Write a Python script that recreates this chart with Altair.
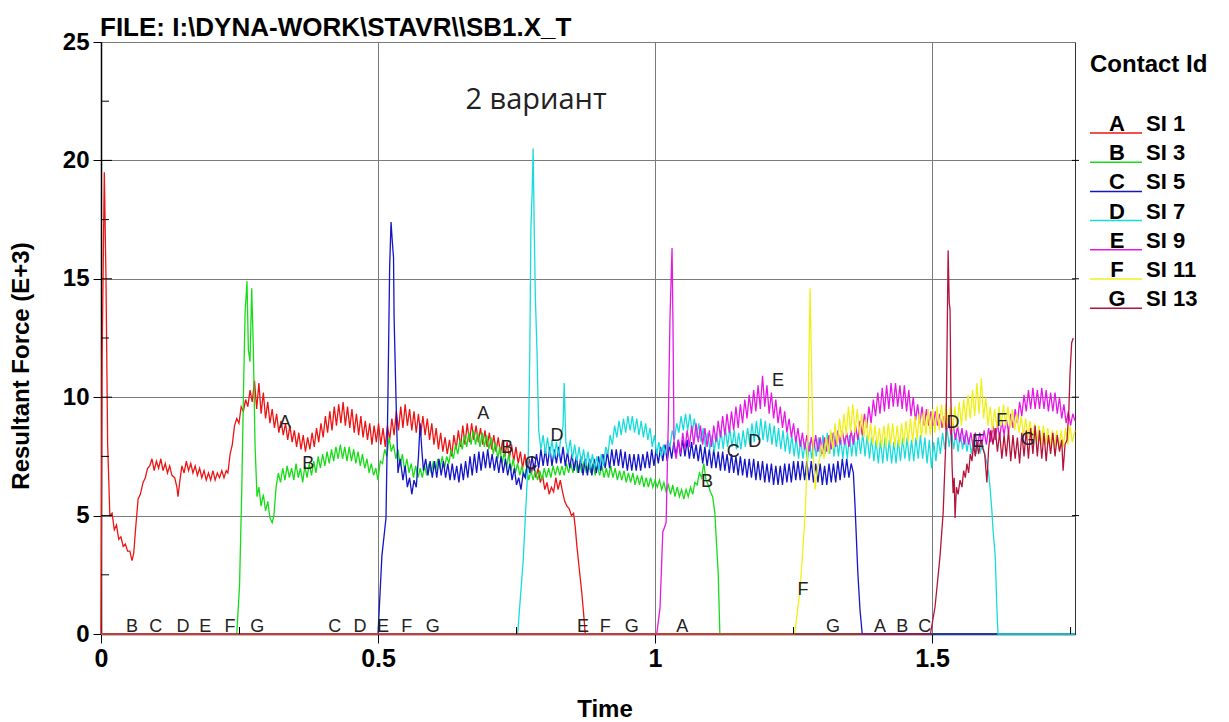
import altair as alt
import pandas as pd

SERIES = ["A", "B", "C", "D", "E", "F", "G"]
LABELS = ["SI 1", "SI 3", "SI 5", "SI 7", "SI 9", "SI 11", "SI 13"]
COLORS = ["#ee1414", "#18dc18", "#1414c8", "#18dcdc", "#e618e6", "#f0f018", "#b4143c"]

X_TICKS = [0, 0.5, 1, 1.5]
Y_TICKS = [0, 5, 10, 15, 20, 25]
X_MINOR = [0.25, 0.75, 1.25, 1.75]
Y_MINOR = [2.5, 7.5, 12.5, 17.5, 22.5]

# (time, resultant force E+3)
A = [(0, 0), (0.002, 11.7), (0.006, 19.5), (0.009, 15.0), (0.012, 8.0), (0.016, 5.0), (0.020, 5.1),
     (0.024, 4.4), (0.028, 4.6), (0.032, 4.0), (0.036, 4.1), (0.040, 3.7), (0.044, 3.8), (0.048, 3.5),
     (0.052, 3.5), (0.056, 3.1), (0.059, 3.4), (0.063, 4.6), (0.067, 5.7), (0.071, 5.9), (0.076, 6.4),
     (0.080, 6.6), (0.084, 7.0), (0.088, 7.1), (0.092, 7.4), (0.096, 6.9), (0.100, 7.3), (0.104, 7.0),
     (0.108, 7.4), (0.112, 6.9), (0.116, 7.2), (0.120, 6.8), (0.124, 7.1), (0.128, 6.7), (0.133, 6.6),
     (0.137, 6.2), (0.139, 5.8), (0.142, 6.4), (0.146, 7.1), (0.150, 6.8), (0.154, 7.3), (0.158, 6.9),
     (0.162, 7.2), (0.166, 6.8), (0.170, 7.1), (0.174, 6.7), (0.178, 7.0), (0.182, 6.6), (0.186, 6.9),
     (0.190, 6.5), (0.194, 6.8), (0.198, 6.5), (0.202, 6.9), (0.206, 6.5), (0.210, 6.8), (0.214, 6.6),
     (0.218, 6.9), (0.222, 6.6), (0.226, 6.9), (0.229, 6.8), (0.233, 7.6), (0.237, 8.0), (0.241, 8.8),
     (0.245, 9.1), (0.249, 8.9), (0.253, 9.6), (0.257, 9.4), (0.261, 9.9), (0.265, 9.6), (0.269, 10.3),
     (0.273, 9.8), (0.277, 10.7), (0.281, 9.5), (0.285, 10.6), (0.289, 9.3), (0.293, 10.2), (0.297, 9.1),
     (0.301, 9.8), (0.305, 8.9), (0.309, 9.5), (0.313, 8.7), (0.317, 9.3), (0.321, 8.5), (0.325, 9.0),
     (0.329, 8.4), (0.333, 8.9), (0.337, 8.2), (0.341, 8.8), (0.345, 8.1), (0.349, 8.6), (0.353, 7.9),
     (0.357, 8.5), (0.361, 7.8), (0.365, 8.4), (0.369, 7.7), (0.373, 8.3), (0.377, 7.8), (0.381, 8.5),
     (0.385, 7.9), (0.389, 8.7), (0.393, 8.1), (0.397, 8.9), (0.401, 8.3), (0.405, 9.2), (0.409, 8.5),
     (0.413, 9.4), (0.417, 8.6), (0.421, 9.6), (0.425, 8.8), (0.429, 9.7), (0.433, 8.9), (0.437, 9.8),
     (0.441, 8.8), (0.445, 9.6), (0.449, 8.7), (0.453, 9.5), (0.457, 8.5), (0.461, 9.3), (0.465, 8.4),
     (0.469, 9.2), (0.473, 8.3), (0.477, 9.0), (0.481, 8.2), (0.485, 8.9), (0.489, 8.0), (0.493, 8.8),
     (0.497, 8.1), (0.501, 8.9), (0.505, 8.0), (0.509, 8.7), (0.513, 7.9), (0.517, 8.8), (0.521, 8.2),
     (0.525, 9.1), (0.529, 8.4), (0.533, 9.4), (0.537, 8.6), (0.541, 9.6), (0.545, 8.7), (0.549, 9.7),
     (0.553, 8.8), (0.557, 9.5), (0.561, 8.6), (0.565, 9.4), (0.569, 8.5), (0.573, 9.3), (0.577, 8.4),
     (0.581, 9.2), (0.585, 8.4), (0.589, 9.1), (0.593, 8.2), (0.597, 8.9), (0.601, 8.0), (0.605, 8.7),
     (0.609, 7.8), (0.613, 8.5), (0.617, 7.7), (0.621, 8.3), (0.625, 7.6), (0.629, 8.2), (0.633, 7.5),
     (0.637, 8.4), (0.641, 7.8), (0.645, 8.6), (0.649, 7.9), (0.653, 8.8), (0.657, 8.0), (0.661, 8.9),
     (0.665, 8.1), (0.669, 8.9), (0.673, 8.2), (0.677, 8.8), (0.681, 8.1), (0.685, 8.7), (0.689, 8.0),
     (0.693, 8.6), (0.697, 7.9), (0.701, 8.5), (0.705, 7.8), (0.709, 8.4), (0.713, 7.7), (0.717, 8.3),
     (0.721, 7.6), (0.725, 8.2), (0.729, 7.5), (0.733, 8.1), (0.737, 7.4), (0.741, 8.0), (0.745, 7.3),
     (0.749, 7.9), (0.753, 7.2), (0.757, 7.7), (0.761, 7.0), (0.765, 7.6), (0.769, 6.9), (0.773, 7.4),
     (0.777, 6.8), (0.781, 7.2), (0.785, 6.6), (0.789, 7.0), (0.793, 6.4), (0.797, 6.7), (0.801, 6.1),
     (0.805, 6.4), (0.809, 5.9), (0.813, 6.2), (0.817, 6.0), (0.821, 6.6), (0.825, 6.1), (0.829, 6.5),
     (0.833, 6.0), (0.837, 5.6), (0.841, 5.4), (0.845, 5.3), (0.849, 5.0), (0.853, 5.1), (0.856, 4.5),
     (0.859, 3.7), (0.863, 2.8), (0.868, 1.7), (0.872, 0.6), (0.874, 0), (1.758, 0)]

B = [(0, 0), (0.245, 0), (0.250, 2.0), (0.254, 6.0), (0.257, 10.0), (0.260, 13.5), (0.2635, 14.9),
     (0.266, 12.0), (0.269, 11.5), (0.272, 14.6), (0.275, 12.0), (0.278, 8.0), (0.2816, 5.8), (0.285, 6.2),
     (0.289, 5.4), (0.293, 5.9), (0.297, 5.2), (0.301, 5.6), (0.305, 4.9), (0.309, 4.7), (0.312, 5.0),
     (0.316, 6.2), (0.320, 6.8), (0.324, 6.4), (0.328, 7.0), (0.332, 6.5), (0.336, 7.1), (0.340, 6.6),
     (0.344, 7.0), (0.348, 6.5), (0.352, 7.2), (0.356, 6.6), (0.360, 7.0), (0.364, 6.4), (0.368, 7.1),
     (0.372, 6.6), (0.376, 7.2), (0.380, 6.7), (0.384, 7.3), (0.388, 6.8), (0.392, 7.5), (0.396, 7.0),
     (0.400, 7.6), (0.404, 7.1), (0.408, 7.7), (0.412, 7.2), (0.416, 7.8), (0.420, 7.3), (0.424, 7.9),
     (0.428, 7.4), (0.432, 8.0), (0.436, 7.4), (0.440, 7.9), (0.444, 7.3), (0.448, 7.9), (0.452, 7.3),
     (0.456, 7.8), (0.460, 7.2), (0.464, 7.7), (0.468, 7.1), (0.472, 7.6), (0.476, 7.0), (0.480, 7.4),
     (0.484, 6.8), (0.488, 7.2), (0.492, 6.7), (0.496, 7.0), (0.500, 6.5), (0.504, 7.3), (0.508, 7.2),
     (0.512, 7.8), (0.516, 7.5), (0.520, 8.3), (0.524, 7.7), (0.528, 8.0), (0.532, 7.4), (0.536, 7.8),
     (0.540, 7.1), (0.544, 7.6), (0.548, 6.9), (0.552, 7.4), (0.556, 6.8), (0.560, 7.2), (0.564, 6.6),
     (0.568, 7.1), (0.572, 6.6), (0.576, 7.0), (0.580, 6.6), (0.584, 7.1), (0.588, 6.7), (0.592, 7.2),
     (0.596, 6.8), (0.600, 7.3), (0.604, 6.9), (0.608, 7.4), (0.612, 7.0), (0.616, 7.5), (0.620, 7.0),
     (0.624, 7.5), (0.628, 7.2), (0.632, 7.8), (0.636, 7.4), (0.640, 8.0), (0.644, 7.6), (0.648, 8.2),
     (0.652, 7.8), (0.656, 8.4), (0.660, 7.9), (0.664, 8.5), (0.668, 8.0), (0.672, 8.6), (0.676, 8.0),
     (0.680, 8.5), (0.684, 7.9), (0.688, 8.5), (0.692, 7.9), (0.696, 8.4), (0.700, 7.8), (0.704, 8.3),
     (0.708, 7.6), (0.712, 8.1), (0.716, 7.4), (0.720, 7.9), (0.724, 7.2), (0.728, 7.7), (0.732, 7.0),
     (0.736, 7.6), (0.740, 6.9), (0.744, 7.4), (0.748, 6.8), (0.752, 7.2), (0.756, 6.7), (0.760, 7.1),
     (0.764, 6.6), (0.768, 7.0), (0.772, 6.5), (0.776, 6.9), (0.780, 6.5), (0.784, 6.9), (0.788, 6.5),
     (0.792, 6.9), (0.796, 6.5), (0.800, 7.0), (0.804, 6.6), (0.808, 7.0), (0.812, 6.6), (0.816, 7.1),
     (0.820, 6.7), (0.824, 7.1), (0.828, 6.7), (0.832, 7.1), (0.836, 6.7), (0.840, 7.2), (0.844, 6.8),
     (0.848, 7.2), (0.852, 6.8), (0.856, 7.3), (0.860, 6.8), (0.864, 7.2), (0.868, 6.8), (0.872, 7.3),
     (0.876, 6.8), (0.880, 7.2), (0.884, 6.8), (0.888, 7.2), (0.892, 6.7), (0.896, 7.1), (0.900, 6.7),
     (0.904, 7.1), (0.908, 6.6), (0.912, 7.0), (0.916, 6.6), (0.920, 7.1), (0.924, 6.6), (0.928, 7.0),
     (0.932, 6.5), (0.936, 6.9), (0.940, 6.5), (0.944, 6.9), (0.948, 6.4), (0.952, 6.8), (0.956, 6.4),
     (0.960, 6.8), (0.964, 6.3), (0.968, 6.7), (0.972, 6.3), (0.976, 6.7), (0.980, 6.2), (0.984, 6.6),
     (0.988, 6.2), (0.992, 6.6), (0.996, 6.2), (1.000, 6.5), (1.004, 6.2), (1.008, 6.5), (1.012, 6.1),
     (1.016, 6.4), (1.020, 6.0), (1.024, 6.3), (1.028, 5.9), (1.032, 6.3), (1.036, 5.8), (1.040, 6.2),
     (1.044, 5.8), (1.048, 6.1), (1.052, 5.7), (1.056, 6.1), (1.060, 5.8), (1.064, 6.2), (1.068, 5.9),
     (1.072, 6.4), (1.076, 6.3), (1.080, 6.8), (1.084, 6.6), (1.088, 7.2), (1.092, 6.5), (1.096, 6.3),
     (1.100, 6.0), (1.104, 5.8), (1.108, 5.1), (1.111, 3.8), (1.114, 2.6), (1.117, 0), (1.758, 0)]

C = [(0, 0), (0.500, 0), (0.507, 3.3), (0.5144, 4.9), (0.518, 10.2), (0.521, 15.5), (0.5235, 17.4),
     (0.526, 16.5), (0.528, 15.9), (0.529, 13.4), (0.5325, 9.9), (0.536, 6.8), (0.540, 7.4), (0.545, 6.5),
     (0.549, 7.1), (0.553, 6.2), (0.557, 6.6), (0.561, 5.9), (0.565, 6.5), (0.569, 6.2), (0.573, 7.5),
     (0.576, 8.9), (0.579, 7.8), (0.582, 6.9), (0.586, 7.4), (0.590, 6.7), (0.594, 7.3), (0.598, 6.6),
     (0.602, 7.3), (0.606, 6.6), (0.610, 7.4), (0.614, 6.7), (0.618, 7.3), (0.622, 6.6), (0.626, 7.2),
     (0.630, 6.5), (0.634, 7.2), (0.638, 6.5), (0.642, 7.1), (0.646, 6.4), (0.650, 7.2), (0.654, 6.5),
     (0.658, 7.3), (0.662, 6.6), (0.666, 7.5), (0.670, 6.7), (0.674, 7.6), (0.678, 6.8), (0.682, 7.7),
     (0.686, 6.9), (0.690, 7.7), (0.694, 7.0), (0.698, 7.8), (0.702, 7.0), (0.706, 7.6), (0.710, 6.9),
     (0.714, 7.5), (0.718, 6.8), (0.722, 7.5), (0.726, 6.8), (0.730, 7.4), (0.734, 6.7), (0.738, 7.2),
     (0.742, 6.5), (0.746, 7.0), (0.750, 6.3), (0.754, 6.6), (0.758, 6.1), (0.762, 6.8), (0.766, 6.6),
     (0.770, 7.3), (0.774, 6.8), (0.778, 7.5), (0.782, 6.9), (0.786, 7.6), (0.790, 7.0), (0.794, 7.8),
     (0.798, 7.1), (0.802, 7.8), (0.806, 7.1), (0.810, 7.9), (0.814, 7.1), (0.818, 7.8), (0.822, 7.2),
     (0.826, 7.9), (0.830, 7.2), (0.834, 7.9), (0.838, 7.1), (0.842, 7.7), (0.846, 7.0), (0.850, 7.6),
     (0.854, 6.9), (0.858, 7.5), (0.862, 6.8), (0.866, 7.5), (0.870, 6.7), (0.874, 7.4), (0.878, 6.7),
     (0.882, 7.4), (0.886, 6.7), (0.890, 7.4), (0.894, 6.8), (0.898, 7.5), (0.902, 6.9), (0.906, 7.6),
     (0.910, 7.0), (0.914, 7.7), (0.918, 7.0), (0.922, 7.8), (0.926, 7.1), (0.930, 7.8), (0.934, 7.1),
     (0.938, 7.8), (0.942, 7.0), (0.946, 7.7), (0.950, 6.9), (0.954, 7.6), (0.958, 6.9), (0.962, 7.6),
     (0.966, 6.9), (0.970, 7.6), (0.974, 6.9), (0.978, 7.6), (0.982, 7.0), (0.986, 7.7), (0.990, 7.0),
     (0.994, 7.8), (0.998, 7.1), (1.002, 7.8), (1.006, 7.2), (1.010, 7.9), (1.014, 7.3), (1.018, 8.0),
     (1.022, 7.3), (1.026, 8.0), (1.030, 7.4), (1.034, 8.1), (1.038, 7.5), (1.042, 8.2), (1.046, 7.5),
     (1.050, 8.2), (1.054, 7.5), (1.058, 8.2), (1.062, 7.4), (1.066, 8.1), (1.070, 7.4), (1.074, 8.0),
     (1.078, 7.3), (1.082, 8.0), (1.086, 7.2), (1.090, 7.9), (1.094, 7.1), (1.098, 7.8), (1.102, 7.0),
     (1.106, 7.8), (1.110, 7.0), (1.114, 7.7), (1.118, 6.9), (1.122, 7.7), (1.126, 6.9), (1.130, 7.6),
     (1.134, 6.8), (1.138, 7.6), (1.142, 6.8), (1.146, 7.5), (1.150, 6.7), (1.154, 7.5), (1.158, 6.7),
     (1.162, 7.4), (1.166, 6.6), (1.170, 7.4), (1.174, 6.6), (1.178, 7.4), (1.182, 6.5), (1.186, 7.3),
     (1.190, 6.5), (1.194, 7.3), (1.198, 6.4), (1.202, 7.2), (1.206, 6.4), (1.210, 7.2), (1.214, 6.3),
     (1.218, 7.1), (1.222, 6.3), (1.226, 7.1), (1.230, 6.3), (1.234, 7.2), (1.238, 6.4), (1.242, 7.2),
     (1.246, 6.4), (1.250, 7.3), (1.254, 6.5), (1.258, 7.3), (1.262, 6.5), (1.266, 7.3), (1.270, 6.5),
     (1.274, 7.3), (1.278, 6.5), (1.282, 7.3), (1.286, 6.4), (1.290, 7.2), (1.294, 6.4), (1.298, 7.2),
     (1.302, 6.3), (1.306, 7.1), (1.310, 6.3), (1.314, 7.2), (1.318, 6.4), (1.322, 7.2), (1.326, 6.4),
     (1.330, 7.3), (1.334, 6.5), (1.338, 7.4), (1.342, 6.6), (1.346, 7.4), (1.350, 6.6), (1.354, 7.2),
     (1.358, 6.8), (1.361, 5.4), (1.366, 2.6), (1.370, 1.0), (1.374, 0), (1.758, 0)]

D = [(0, 0), (0.752, 0), (0.762, 3.1), (0.771, 7.3), (0.774, 12.0), (0.776, 17.2), (0.778, 18.5),
     (0.780, 20.5), (0.782, 17.0), (0.784, 14.2), (0.787, 11.9), (0.790, 8.6), (0.794, 7.8), (0.798, 8.4),
     (0.802, 7.6), (0.806, 8.3), (0.810, 7.5), (0.814, 8.2), (0.818, 7.4), (0.822, 8.1), (0.826, 7.5),
     (0.830, 8.3), (0.834, 8.8), (0.836, 10.6), (0.839, 8.1), (0.843, 7.6), (0.847, 8.2), (0.851, 7.4),
     (0.855, 8.0), (0.859, 7.3), (0.863, 7.9), (0.867, 7.2), (0.871, 7.8), (0.875, 7.1), (0.879, 7.7),
     (0.883, 7.0), (0.887, 7.6), (0.891, 7.0), (0.895, 7.5), (0.899, 6.9), (0.903, 7.6), (0.907, 7.1),
     (0.911, 7.9), (0.915, 7.6), (0.919, 8.4), (0.923, 8.0), (0.927, 8.8), (0.931, 8.3), (0.935, 9.0),
     (0.939, 8.4), (0.943, 9.1), (0.947, 8.5), (0.951, 9.2), (0.955, 8.6), (0.959, 9.2), (0.963, 8.5),
     (0.967, 9.1), (0.971, 8.4), (0.975, 9.0), (0.979, 8.3), (0.983, 8.9), (0.987, 8.2), (0.991, 8.7),
     (0.995, 7.9), (0.999, 8.4), (1.003, 7.6), (1.007, 8.1), (1.011, 7.5), (1.015, 8.0), (1.019, 7.6),
     (1.023, 8.2), (1.027, 7.9), (1.031, 8.6), (1.035, 8.2), (1.039, 8.9), (1.043, 8.5), (1.047, 9.2),
     (1.051, 8.6), (1.055, 9.3), (1.059, 8.6), (1.063, 9.3), (1.067, 8.5), (1.071, 9.1), (1.075, 8.3),
     (1.079, 8.9), (1.083, 8.1), (1.087, 8.7), (1.091, 7.9), (1.095, 8.5), (1.099, 7.8), (1.103, 8.4),
     (1.107, 7.7), (1.111, 8.5), (1.115, 7.8), (1.119, 8.6), (1.123, 7.8), (1.127, 8.7), (1.131, 7.9),
     (1.135, 8.7), (1.139, 7.9), (1.143, 8.6), (1.147, 7.8), (1.151, 8.5), (1.155, 7.8), (1.159, 8.6),
     (1.163, 7.9), (1.167, 8.7), (1.171, 8.0), (1.175, 8.9), (1.179, 8.1), (1.183, 9.0), (1.187, 8.2),
     (1.191, 9.1), (1.195, 8.2), (1.199, 9.0), (1.203, 8.1), (1.207, 8.9), (1.211, 8.0), (1.215, 8.8),
     (1.219, 7.9), (1.223, 8.7), (1.227, 7.8), (1.231, 8.6), (1.235, 7.7), (1.239, 8.5), (1.243, 7.6),
     (1.247, 8.4), (1.251, 7.5), (1.255, 8.3), (1.259, 7.4), (1.263, 8.2), (1.267, 7.4), (1.271, 8.1),
     (1.275, 7.3), (1.279, 8.1), (1.283, 7.4), (1.287, 8.2), (1.291, 7.5), (1.295, 8.3), (1.299, 7.5),
     (1.303, 8.4), (1.307, 7.6), (1.311, 8.5), (1.315, 7.6), (1.319, 8.5), (1.323, 7.5), (1.327, 8.4),
     (1.331, 7.5), (1.335, 8.3), (1.339, 7.4), (1.343, 8.3), (1.347, 7.4), (1.351, 8.4), (1.355, 7.5),
     (1.359, 8.4), (1.363, 7.5), (1.367, 8.5), (1.371, 7.6), (1.375, 8.5), (1.379, 7.5), (1.383, 8.4),
     (1.387, 7.4), (1.391, 8.3), (1.395, 7.3), (1.399, 8.2), (1.403, 7.2), (1.407, 8.2), (1.411, 7.2),
     (1.415, 8.3), (1.419, 7.3), (1.423, 8.2), (1.427, 7.2), (1.431, 8.1), (1.435, 7.2), (1.439, 8.2),
     (1.443, 7.3), (1.447, 8.3), (1.451, 7.4), (1.455, 8.3), (1.459, 7.3), (1.463, 8.2), (1.467, 7.3),
     (1.471, 8.3), (1.475, 7.4), (1.479, 8.4), (1.483, 7.4), (1.487, 8.3), (1.491, 7.2), (1.495, 8.2),
     (1.499, 7.0), (1.503, 8.1), (1.507, 7.3), (1.511, 8.3), (1.515, 7.6), (1.519, 8.5), (1.523, 7.8),
     (1.527, 8.7), (1.531, 7.9), (1.535, 8.6), (1.539, 7.8), (1.543, 8.5), (1.547, 7.7), (1.551, 8.5),
     (1.555, 7.8), (1.559, 8.4), (1.563, 7.7), (1.567, 8.3), (1.571, 7.6), (1.575, 8.2), (1.579, 7.6),
     (1.583, 8.1), (1.587, 7.7), (1.591, 8.0), (1.595, 7.6), (1.599, 7.2), (1.602, 6.8), (1.605, 6.1),
     (1.608, 5.2), (1.610, 4.4), (1.614, 3.3), (1.617, 1.1), (1.619, 0), (1.758, 0)]

E = [(0, 0), (1.003, 0), (1.009, 1.1), (1.014, 4.3), (1.020, 4.7), (1.024, 9.0), (1.027, 13.4),
     (1.0307, 16.3), (1.0325, 12.8), (1.0343, 7.9), (1.038, 7.4), (1.042, 8.2), (1.046, 7.6), (1.050, 8.5),
     (1.054, 7.8), (1.058, 8.6), (1.062, 7.9), (1.066, 8.8), (1.070, 8.0), (1.074, 8.9), (1.078, 8.1),
     (1.082, 8.8), (1.086, 8.0), (1.090, 8.7), (1.094, 7.9), (1.098, 8.6), (1.102, 7.9), (1.106, 8.8),
     (1.110, 8.1), (1.114, 9.0), (1.118, 8.3), (1.122, 9.2), (1.126, 8.4), (1.130, 9.3), (1.134, 8.5),
     (1.138, 9.4), (1.142, 8.6), (1.146, 9.6), (1.150, 8.7), (1.154, 9.7), (1.158, 8.9), (1.162, 9.9),
     (1.166, 9.1), (1.170, 10.1), (1.174, 9.3), (1.178, 10.3), (1.182, 9.4), (1.186, 10.5), (1.190, 9.5),
     (1.194, 10.9), (1.198, 9.6), (1.202, 10.5), (1.206, 9.3), (1.210, 10.2), (1.214, 9.1), (1.218, 9.9),
     (1.222, 8.9), (1.226, 9.6), (1.230, 8.7), (1.234, 9.4), (1.238, 8.5), (1.242, 9.1), (1.246, 8.3),
     (1.250, 8.9), (1.254, 8.1), (1.258, 8.7), (1.262, 7.9), (1.266, 8.5), (1.270, 7.8), (1.274, 8.4),
     (1.278, 7.7), (1.282, 8.3), (1.286, 7.7), (1.290, 8.4), (1.294, 7.7), (1.298, 8.3), (1.302, 7.6),
     (1.306, 8.3), (1.310, 7.7), (1.314, 8.4), (1.318, 7.8), (1.322, 8.5), (1.326, 7.9), (1.330, 8.6),
     (1.334, 8.0), (1.338, 8.6), (1.342, 8.0), (1.346, 8.5), (1.350, 7.9), (1.354, 8.6), (1.358, 8.0),
     (1.362, 8.8), (1.366, 8.2), (1.370, 9.0), (1.374, 8.4), (1.378, 9.3), (1.382, 8.7), (1.386, 9.6),
     (1.390, 8.9), (1.394, 9.9), (1.398, 9.2), (1.402, 10.2), (1.406, 9.3), (1.410, 10.4), (1.414, 9.4),
     (1.418, 10.5), (1.422, 9.5), (1.426, 10.6), (1.430, 9.6), (1.434, 10.6), (1.438, 9.6), (1.442, 10.5),
     (1.446, 9.5), (1.450, 10.5), (1.454, 9.4), (1.458, 10.3), (1.462, 9.2), (1.466, 10.0), (1.470, 9.0),
     (1.474, 9.7), (1.478, 8.9), (1.482, 9.6), (1.486, 8.8), (1.490, 9.5), (1.494, 8.8), (1.498, 9.4),
     (1.502, 8.8), (1.506, 9.4), (1.510, 8.8), (1.514, 9.3), (1.518, 8.7), (1.522, 9.2), (1.526, 8.6),
     (1.530, 9.1), (1.534, 8.4), (1.538, 8.9), (1.542, 8.2), (1.546, 8.8), (1.550, 8.1), (1.554, 8.7),
     (1.558, 8.0), (1.562, 8.6), (1.566, 8.0), (1.570, 8.5), (1.574, 7.9), (1.578, 8.5), (1.582, 7.9),
     (1.586, 8.5), (1.590, 8.0), (1.594, 8.6), (1.598, 8.0), (1.602, 8.7), (1.606, 8.1), (1.610, 8.8),
     (1.614, 8.2), (1.618, 8.9), (1.622, 8.3), (1.626, 9.0), (1.630, 8.4), (1.634, 9.1), (1.638, 8.5),
     (1.642, 9.3), (1.646, 8.7), (1.650, 9.5), (1.654, 8.9), (1.658, 9.8), (1.662, 9.2), (1.666, 10.1),
     (1.670, 9.4), (1.674, 10.3), (1.678, 9.5), (1.682, 10.4), (1.686, 9.5), (1.690, 10.3), (1.694, 9.5),
     (1.698, 10.4), (1.702, 9.5), (1.706, 10.3), (1.710, 9.4), (1.714, 10.2), (1.718, 9.4), (1.722, 10.2),
     (1.726, 9.3), (1.730, 10.0), (1.734, 9.1), (1.738, 9.7), (1.742, 8.9), (1.746, 9.4), (1.750, 8.8),
     (1.754, 9.3), (1.758, 9.0)]

F = [(0, 0), (1.252, 0), (1.262, 1.9), (1.271, 5.1), (1.276, 8.2), (1.278, 12.0), (1.2798, 14.6),
     (1.2815, 12.5), (1.2834, 10.0), (1.286, 7.5), (1.289, 6.1), (1.293, 7.0), (1.297, 7.4), (1.301, 8.0),
     (1.305, 7.4), (1.309, 8.3), (1.313, 7.6), (1.317, 8.6), (1.321, 7.8), (1.325, 8.9), (1.329, 8.0),
     (1.333, 9.1), (1.337, 8.2), (1.341, 9.3), (1.345, 8.4), (1.349, 9.6), (1.353, 8.5), (1.357, 9.7),
     (1.361, 8.5), (1.365, 9.5), (1.369, 8.4), (1.373, 9.3), (1.377, 8.3), (1.381, 9.1), (1.385, 8.1),
     (1.389, 8.9), (1.393, 8.0), (1.397, 8.8), (1.401, 7.9), (1.405, 8.7), (1.409, 7.9), (1.413, 8.8),
     (1.417, 7.9), (1.421, 8.9), (1.425, 8.0), (1.429, 8.9), (1.433, 7.9), (1.437, 8.8), (1.441, 7.9),
     (1.445, 8.9), (1.449, 8.0), (1.453, 9.0), (1.457, 8.1), (1.461, 9.1), (1.465, 8.1), (1.469, 9.2),
     (1.473, 8.2), (1.477, 9.3), (1.481, 8.3), (1.485, 9.4), (1.489, 8.4), (1.493, 9.5), (1.497, 8.4),
     (1.501, 9.5), (1.505, 8.5), (1.509, 9.6), (1.513, 8.6), (1.517, 9.7), (1.521, 8.7), (1.525, 9.7),
     (1.529, 8.7), (1.533, 9.6), (1.537, 8.6), (1.541, 9.6), (1.545, 8.7), (1.549, 9.8), (1.553, 8.8),
     (1.557, 9.9), (1.561, 9.0), (1.565, 10.1), (1.569, 9.1), (1.573, 10.3), (1.577, 9.2), (1.581, 10.6),
     (1.585, 9.3), (1.589, 10.8), (1.593, 9.1), (1.597, 10.0), (1.601, 8.8), (1.605, 9.6), (1.609, 8.6),
     (1.613, 9.5), (1.617, 8.7), (1.621, 9.6), (1.625, 8.8), (1.629, 9.7), (1.633, 8.8), (1.637, 9.6),
     (1.641, 8.7), (1.645, 9.5), (1.649, 8.6), (1.653, 9.3), (1.657, 8.5), (1.661, 9.2), (1.665, 8.4),
     (1.669, 9.1), (1.673, 8.3), (1.677, 9.0), (1.681, 8.2), (1.685, 8.9), (1.689, 8.1), (1.693, 8.8),
     (1.697, 8.0), (1.701, 8.8), (1.705, 8.0), (1.709, 8.7), (1.713, 7.9), (1.717, 8.6), (1.721, 7.9),
     (1.725, 8.6), (1.729, 7.8), (1.733, 8.6), (1.737, 7.9), (1.741, 8.7), (1.745, 8.0), (1.749, 8.8),
     (1.753, 8.1), (1.758, 8.6)]

G = [(0, 0), (1.497, 0), (1.5054, 1.15), (1.5144, 3.3), (1.520, 5.1), (1.525, 8.2), (1.527, 12.0),
     (1.529, 16.2), (1.531, 14.0), (1.5325, 13.7), (1.534, 10.0), (1.536, 7.2), (1.538, 5.95), (1.540, 6.6),
     (1.5415, 4.9), (1.544, 6.2), (1.547, 5.9), (1.5505, 6.5), (1.554, 6.2), (1.557, 6.9), (1.560, 6.6),
     (1.563, 7.2), (1.566, 6.8), (1.569, 7.6), (1.572, 7.3), (1.575, 8.0), (1.578, 7.5), (1.581, 8.1),
     (1.584, 7.6), (1.588, 8.2), (1.592, 7.8), (1.595, 7.6), (1.599, 6.4), (1.602, 7.8), (1.606, 8.6),
     (1.610, 8.0), (1.614, 8.7), (1.618, 7.7), (1.622, 8.5), (1.626, 7.4), (1.630, 8.4), (1.634, 7.5),
     (1.638, 8.6), (1.642, 7.3), (1.646, 8.4), (1.650, 7.4), (1.654, 8.3), (1.658, 7.2), (1.662, 8.5),
     (1.666, 7.5), (1.670, 8.6), (1.674, 7.4), (1.678, 8.7), (1.682, 7.6), (1.686, 8.8), (1.690, 7.5),
     (1.694, 8.6), (1.698, 7.4), (1.702, 8.5), (1.706, 7.3), (1.710, 8.4), (1.714, 7.6), (1.718, 8.5),
     (1.722, 7.5), (1.726, 8.4), (1.730, 7.7), (1.734, 8.2), (1.7365, 6.9), (1.740, 8.0), (1.7437, 8.2),
     (1.747, 9.5), (1.749, 11.0), (1.752, 12.3), (1.755, 12.5)]

# curve identification letters (letter, time, force)
CURVE_LETTERS = [
    ("A", 0.332, 8.9), ("B", 0.374, 7.2), ("A", 0.690, 9.3), ("B", 0.733, 7.85), ("C", 0.776, 7.2),
    ("D", 0.823, 8.35), ("B", 1.094, 6.4), ("C", 1.141, 7.7), ("D", 1.180, 8.1), ("E", 1.222, 10.7),
    ("D", 1.538, 8.9), ("E", 1.583, 8.1), ("F", 1.626, 9.0), ("G", 1.673, 8.2), ("F", 1.267, 1.86),
    ("B", 0.056, 0.3), ("C", 0.099, 0.3), ("D", 0.148, 0.3), ("E", 0.188, 0.3), ("F", 0.233, 0.3),
    ("G", 0.282, 0.3), ("C", 0.422, 0.3), ("D", 0.4675, 0.3), ("E", 0.509, 0.3), ("F", 0.552, 0.3),
    ("G", 0.599, 0.3), ("E", 0.870, 0.3), ("F", 0.910, 0.3), ("G", 0.958, 0.3), ("A", 1.049, 0.3),
    ("G", 1.321, 0.3), ("A", 1.406, 0.3), ("B", 1.446, 0.3), ("C", 1.487, 0.3),
]

TITLE = "FILE: I:\\DYNA-WORK\\STAVR\\\\SB1.X_T"
NOTE = "2 вариант"
X_TITLE = "Time"
Y_TITLE = "Resultant Force (E+3)"
LEGEND_TITLE = "Contact Id"

FONT = "Liberation Sans"
W, H = 974, 592

xscale = alt.Scale(domain=[0, 1.758], nice=False, zero=False)
yscale = alt.Scale(domain=[0, 25], nice=False, zero=False)
xaxis = alt.Axis(values=X_TICKS, title=None, grid=True, gridColor="#7a7a7a", gridWidth=1,
                 tickColor="black", tickSize=9, domainColor="black", domainWidth=1.5,
                 labelFont=FONT, labelFontSize=25, labelFontWeight="bold", labelColor="black",
                 labelPadding=3, labelFlush=False, format="~g")
yaxis = alt.Axis(values=Y_TICKS, title=None, grid=True, gridColor="#7a7a7a", gridWidth=1,
                 tickColor="black", tickSize=8, domainColor="black", domainWidth=1.5,
                 labelFont=FONT, labelFontSize=24, labelFontWeight="bold", labelColor="black",
                 labelPadding=4, labelFlush=False, format="~g")
X = alt.X("t:Q", scale=xscale, axis=xaxis)
Y = alt.Y("v:Q", scale=yscale, axis=yaxis)

layers = []
for name, pts, col in zip(SERIES, [A, B, C, D, E, F, G], COLORS):
    df = pd.DataFrame(pts, columns=["t", "v"])
    layers.append(alt.Chart(df).mark_line(color=col, strokeWidth=1.3, clip=False).encode(x=X, y=Y))

lt = pd.DataFrame(CURVE_LETTERS, columns=["s", "t", "v"])
layers.append(alt.Chart(lt).mark_text(font=FONT, fontSize=18, color="#222222", baseline="middle",
                                      align="center").encode(x=X, y=Y, text="s:N"))

# minor / inner ticks
layers.append(alt.Chart(pd.DataFrame({"v": Y_MINOR})).mark_rule(color="black").encode(
    y=Y, x=alt.value(0), x2=alt.value(8)))
layers.append(alt.Chart(pd.DataFrame({"v": Y_TICKS[1:-1]})).mark_rule(color="black").encode(
    y=Y, x=alt.value(0), x2=alt.value(11)))
layers.append(alt.Chart(pd.DataFrame({"v": Y_TICKS[1:-1]})).mark_rule(color="black").encode(
    y=Y, x=alt.value(W - 3), x2=alt.value(W + 4)))
layers.append(alt.Chart(pd.DataFrame({"t": X_MINOR})).mark_rule(color="black").encode(
    x=X, y=alt.value(H), y2=alt.value(H - 7)))


def label(text, x, y, size, weight="bold", align="left", baseline="middle", angle=0,
          font=FONT, color="black"):
    return alt.Chart(pd.DataFrame({"s": [text]})).mark_text(
        font=font, fontSize=size, fontWeight=weight, align=align, baseline=baseline,
        angle=angle, color=color, clip=False).encode(x=alt.value(x), y=alt.value(y), text="s:N")


layers.append(label(TITLE, -1, -6, 26, baseline="alphabetic"))
layers.append(label(NOTE, 435, 58, 29, weight="normal", align="center", font="Open Sans",
                    color="#222222"))
layers.append(label(X_TITLE, 504, 668, 24, align="center"))
layers.append(label(Y_TITLE, -79, 324, 24, align="center", angle=270))
layers.append(label(LEGEND_TITLE, 989, 23, 24))

for i, (letter, text, col) in enumerate(zip(SERIES, LABELS, COLORS)):
    py = 82 + 29.2 * i
    layers.append(alt.Chart(pd.DataFrame({"s": [letter]})).mark_rule(color=col, strokeWidth=1.5).encode(
        x=alt.value(989), x2=alt.value(1041), y=alt.value(py + 9)))
    layers.append(label(letter, 1016, py, 22, align="center"))
    layers.append(label(text, 1045, py, 22))

chart = alt.layer(*layers).properties(
    width=W, height=H,
    autosize=alt.AutoSizeParams(type="none"),
    padding={"left": 101, "top": 42, "right": 154, "bottom": 88},
    background="white",
).configure_view(stroke="#333333", strokeWidth=1)

chart.save("out.html", embed_options={"renderer": "svg", "actions": False})
